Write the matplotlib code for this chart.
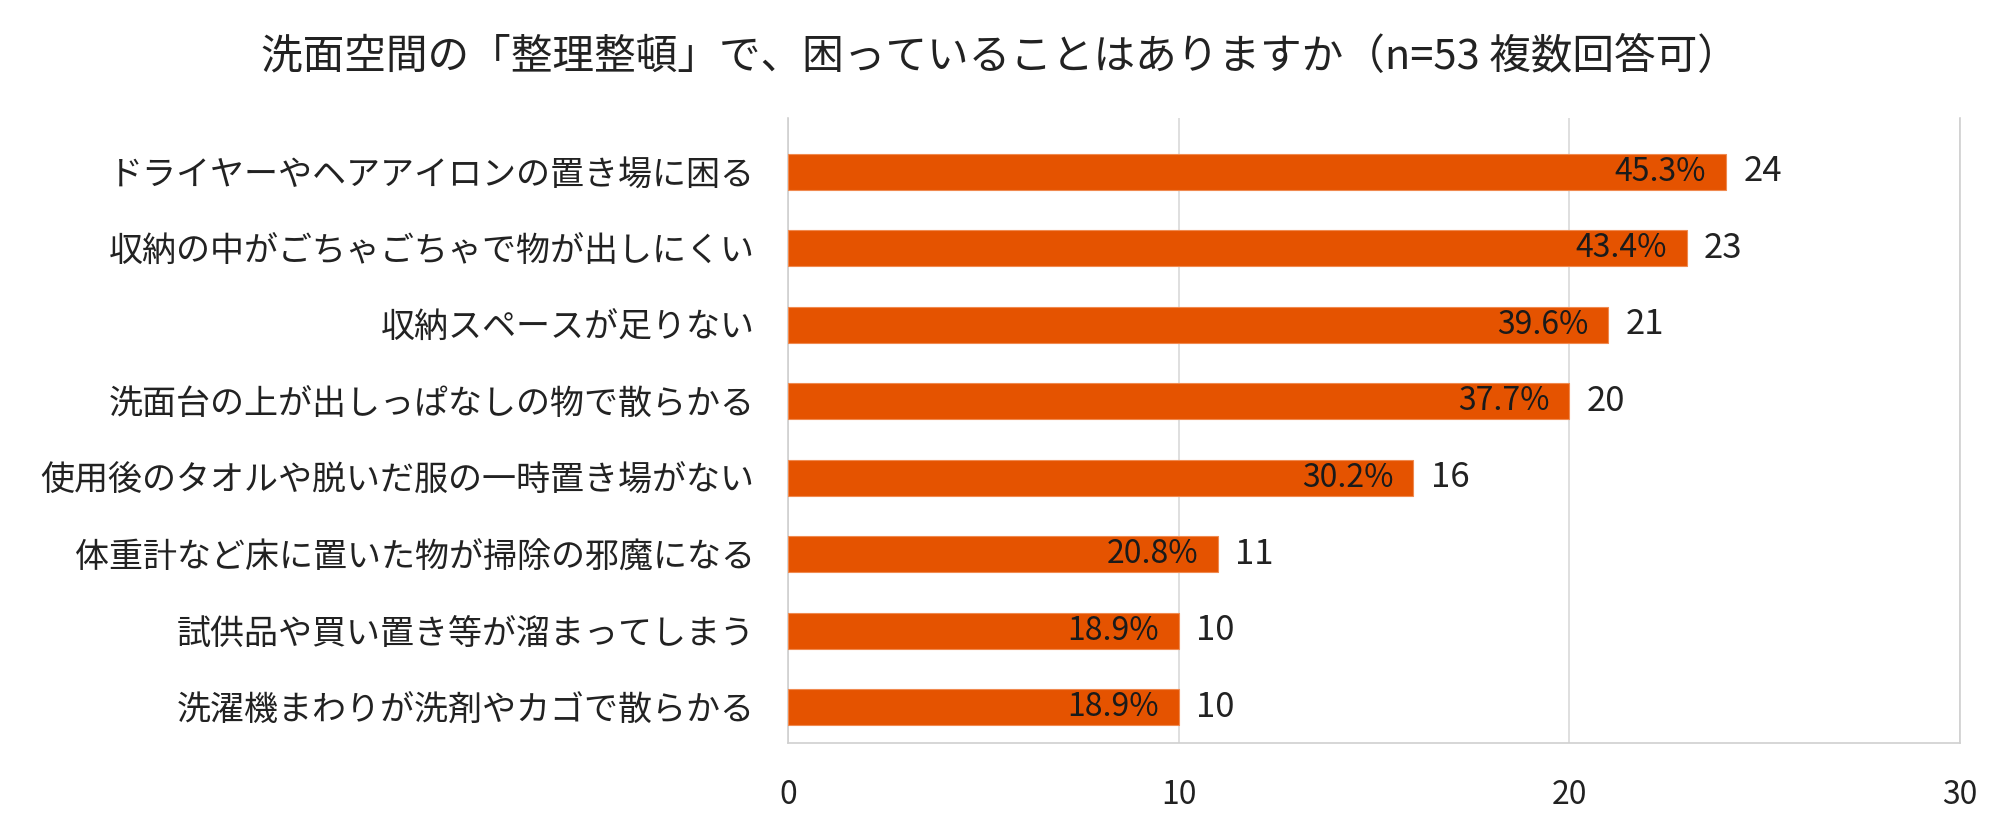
import numpy as np
import matplotlib.pyplot as plt

plt.rcParams['font.family'] = ['Noto Sans CJK JP', 'DejaVu Sans']

# データ
categories = [
    'ドライヤーやヘアアイロンの置き場に困る',
    '収納の中がごちゃごちゃで物が出しにくい',
    '収納スペースが足りない',
    '洗面台の上が出しっぱなしの物で散らかる',
    '使用後のタオルや脱いだ服の一時置き場がない',
    '体重計など床に置いた物が掃除の邪魔になる',
    '試供品や買い置き等が溜まってしまう',
    '洗濯機まわりが洗剤やカゴで散らかる',
]
counts = [24, 23, 21, 20, 16, 11, 10, 10]
percents = ['45.3%', '43.4%', '39.6%', '37.7%', '30.2%', '20.8%', '18.9%', '18.9%']
title = '洗面空間の「整理整頓」で、困っていることはありますか（n=53 複数回答可）'

fig = plt.figure(figsize=(20, 8.25), dpi=100)
ax = fig.add_axes([0.394, 0.099, 0.586, 0.758])

y = np.arange(len(categories))
ax.barh(y, counts, height=0.47, color='#E55300', edgecolor='#F08A50', linewidth=0.8, zorder=3)

for i, (c, p) in enumerate(zip(counts, percents)):
    ax.text(c - 0.5, i, p, ha='right', va='center', fontsize=23, color='#1a1a1a', zorder=4)
    ax.text(c + 0.45, i, str(c), ha='left', va='center', fontsize=25, color='#222222', zorder=4)

ax.set_xlim(0, 30)
ax.set_ylim(len(categories) - 0.53, -0.7)
ax.set_xticks([0, 10, 20, 30])
ax.set_yticks(y)
ax.set_yticklabels(categories, fontsize=24.5, color='#222222')
ax.tick_params(axis='x', labelsize=23, colors='#222222', length=0, pad=26)
ax.tick_params(axis='y', length=0, pad=24)
ax.grid(axis='x', color='#D9D9D9', linewidth=1.2, zorder=0)
for s in ['top']:
    ax.spines[s].set_visible(False)
for s in ['left', 'right', 'bottom']:
    ax.spines[s].set_color('#D0D0D0')
    ax.spines[s].set_linewidth(1.2)

fig.text(0.5, 0.93, title, ha='center', va='center', fontsize=30, color='#222222')

plt.savefig('out.png', dpi=100)
